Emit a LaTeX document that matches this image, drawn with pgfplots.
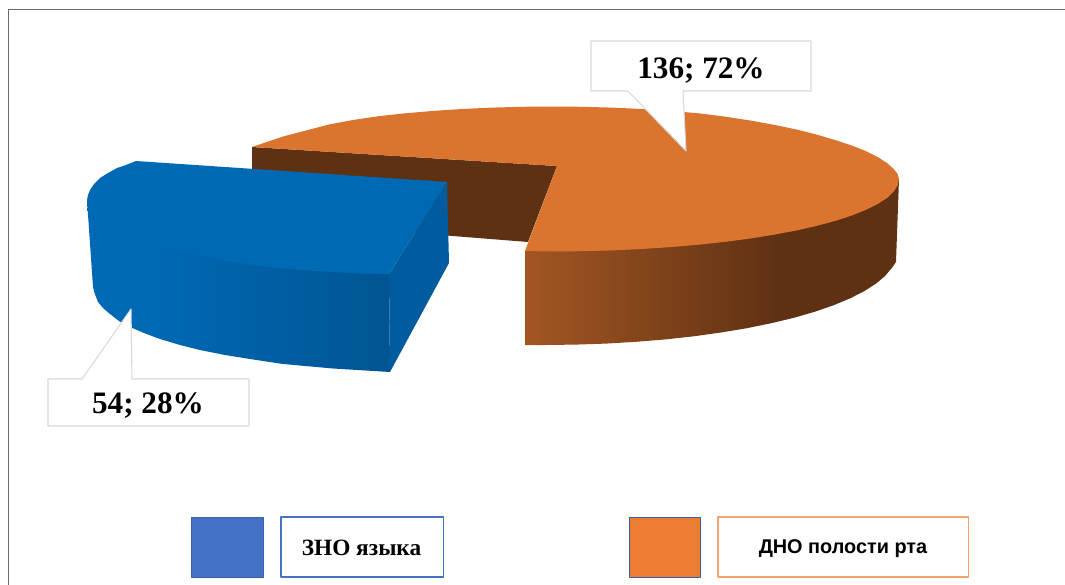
\documentclass[border=0pt]{standalone}
\usepackage{fontspec}
\setmainfont{Liberation Serif}
\newfontfamily\legendsans{Liberation Sans}
\usepackage{pgfplots}
\pgfplotsset{compat=1.18}
\definecolor{frameline}{HTML}{6A6A6A}
\definecolor{calloutline}{HTML}{D9D9D9}
\definecolor{blueTop}{HTML}{0069B4}
\definecolor{blueCut}{HTML}{005C9E}
\definecolor{orangeTop}{HTML}{DB742E}
\definecolor{brownDark}{HTML}{5F3113}
\definecolor{legendBlue}{HTML}{4472C4}
\definecolor{legendOrange}{HTML}{ED7D31}
\definecolor{legendOrangeLine}{HTML}{F4A26C}
\pgfdeclarehorizontalshading{blueSide}{100bp}{color(0bp)=(blueTop); color(25bp)=(blueTop); color(36bp)=(blueTop); color(75bp)=(blueCut!92!black); color(100bp)=(blueCut!92!black)}
\pgfdeclarehorizontalshading{orangeSide}{100bp}{color(0bp)=(orangeTop!74!black); color(25bp)=(orangeTop!74!black); color(59bp)=(brownDark); color(100bp)=(brownDark)}
\begin{document}
\begin{tikzpicture}[x=1pt,y=1pt]
\begin{axis}[
  width=798.75pt, height=438.75pt, scale only axis,
  xmin=0, xmax=1065, ymin=0, ymax=585, y dir=reverse,
  hide axis, clip=true, no markers,
  every axis plot/.append style={line join=round}
]
% full drawing area
\addplot[draw=none] coordinates {(0,0) (1065,585)};
% chart frame
\addplot[draw=frameline, line width=1.3pt] coordinates {(1065,9.5) (8.5,9.5) (8.5,585)};

% larger slice: cut faces, rim and top
\addplot[fill=brownDark, draw=none] coordinates {(252,147) (557,166) (528,242) (252,220)} --cycle;
\addplot[shade, shading=orangeSide, draw=none] coordinates {
  (525,251) (540,247) (552,245) (582.3,245) (612.2,244) (641.8,243) (670.7,241) (698.6,238.7)
  (725.5,235.8) (751,232.4) (775,228.5) (797.4,224.3) (817.8,219.6) (836.3,214.6) (852.5,209.3)
  (866.5,203.6) (878.1,197.8) (887.2,191.8) (893.7,185.6) (897.7,180) (899,179)
  (896,262) (891.7,268.1) (885,276.1) (875.8,283.8) (864,291.3) (849.8,298.5) (833.4,305.3)
  (814.6,311.8) (793.9,317.8) (771.3,323.2) (746.9,328.2) (721,332.5) (693.8,336.3) (665.4,339.4)
  (636.1,341.8) (606.1,343.6) (575.7,344.6) (545,345) (525,345)} --cycle;
\addplot[fill=orangeTop, draw=none] coordinates {
  (252,147) (268,141.5) (283,136.5) (306,130.5) (329,124.5) (353,120) (378.5,116.2)
  (405.4,113.3) (433.3,110.9) (462.2,109) (491.8,107.6) (521.7,106.8) (552,106.5)
  (582.3,106.8) (612.2,107.6) (641.8,109) (670.7,110.9) (698.6,113.3) (725.5,116.7) (751,120.6)
  (775,125) (797.4,129.7) (817.8,134.9) (836.3,140.4) (852.5,145.8) (866.5,151.4) (878.1,157.2)
  (887.2,163.2) (893.7,168.9) (897.7,174.2) (899,179)
  (897.7,185.3) (893.7,191.6) (887.2,197.8) (878.1,203.8) (866.5,209.6) (852.5,215.3) (836.3,220.6)
  (817.8,225.6) (797.4,230.3) (775,234.5) (751,238.4) (725.5,241.8) (698.6,244.7) (670.7,247.1)
  (641.8,249) (612.2,250.4) (582.3,251.2) (552,251.5) (525,251) (557,166)} --cycle;

% smaller slice, pulled out of the pie
\addplot[shade, shading=blueSide, draw=none] coordinates {
  (87,200) (93,287) (94.5,293) (98,302) (103,308) (110,314) (119,321) (130,327) (144,333)
  (160,339) (180,345) (200,350) (225,355) (250,359) (283,364) (333,368.5) (390,372) (389,268)
  (360,267.5) (333,266) (300,264) (267,261) (240,257) (213,252) (190,248) (167,244) (150,240) (133,236)} --cycle;
\addplot[fill=blueCut, draw=none] coordinates {(447,182) (449,263) (390,372) (389,274)} --cycle;
\addplot[fill=blueTop, draw=none] coordinates {
  (136,161) (447,182) (389,274) (360,273.5) (333,272) (300,270) (267,267) (240,263) (213,258)
  (190,254) (167,250) (150,246) (133,242) (105,230) (90,212)
  (87,200) (88,195) (90,190) (94,184) (100,178) (108,173) (117,168) (126,165)} --cycle;

% callouts
\addplot[fill=white, draw=calloutline, line width=0.8pt] coordinates {
  (591,41) (811,41) (811,91) (683,91) (686,151) (628,91) (591,91)} --cycle;
\addplot[fill=white, draw=calloutline, line width=0.8pt] coordinates {
  (48,379) (82,379) (131,309) (132,379) (249,379) (249,426) (48,426)} --cycle;
\node[font=\fontsize{23.4pt}{26pt}\selectfont\bfseries] at (axis cs:701,71) {136; 72\%};
\node[font=\fontsize{23.4pt}{26pt}\selectfont\bfseries] at (axis cs:148,406) {54; 28\%};

% legend
\addplot[fill=legendBlue, draw=legendBlue!85!black, line width=0.6pt] coordinates {(191,517) (263,517) (263,577) (191,577)} --cycle;
\addplot[fill=white, draw=legendBlue, line width=0.8pt] coordinates {(281,517) (443.5,517) (443.5,577) (281,577)} --cycle;
\addplot[fill=legendOrange, draw=legendBlue!85!black, line width=0.6pt] coordinates {(629,517) (700,517) (700,577) (629,577)} --cycle;
\addplot[fill=white, draw=legendOrangeLine, line width=0.8pt] coordinates {(718,517) (968.5,517) (968.5,577) (718,577)} --cycle;
\node[font=\fontsize{17.5pt}{20pt}\selectfont\bfseries] at (axis cs:361.5,548) {ЗНО языка};
\node[font=\fontsize{14.9pt}{18pt}\selectfont\bfseries\legendsans] at (axis cs:843,549) {ДНО полости рта};
\end{axis}
\end{tikzpicture}
\end{document}
